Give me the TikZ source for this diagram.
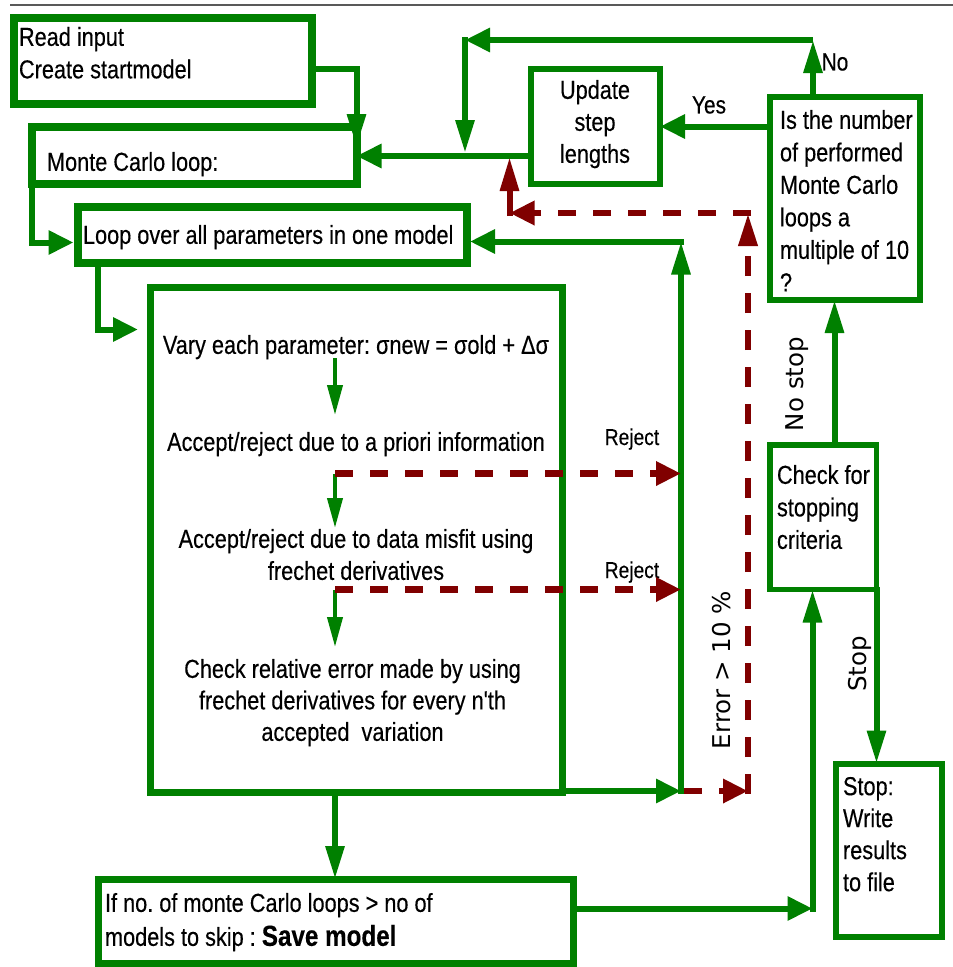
\documentclass[tikz,border=0pt]{standalone}
\usepackage{fontspec}
\setmainfont{Liberation Sans}
\newfontfamily\nfont[FakeStretch=0.835,FakeBold=0.3]{Liberation Sans}
\newfontfamily\dfont{DejaVu Sans}
\usetikzlibrary{arrows.meta,calc}
\definecolor{gr}{HTML}{008000}
\definecolor{dr}{HTML}{800000}
\frenchspacing
\begin{document}
\begin{tikzpicture}[x=1pt,y=-1pt,
  box/.style={draw=gr, fill=white, inner sep=0pt, outer sep=0pt, line width=6pt},
  txt/.style={inner sep=0pt, outer sep=0pt, text=black, font=\nfont\frenchspacing\fontsize{26}{32.5}\selectfont},
  lbl/.style={inner sep=0pt, outer sep=0pt, text=black, font=\nfont\fontsize{25}{30}\selectfont},
  rot/.style={inner sep=0pt, outer sep=0pt, text=black, rotate=90, font=\dfont\fontsize{24.5}{30}\selectfont},
  harr/.style={draw=gr, line width=6pt, -{Triangle[length=25pt,width=23pt]}},
  varr/.style={draw=gr, line width=6pt, -{Triangle[length=33pt,width=18pt]}},
  sarr/.style={draw=gr, line width=4pt, -{Triangle[length=30pt,width=15pt]}},
  rharr/.style={draw=dr, line width=6.5pt, dash pattern=on 18pt off 17pt, -{Triangle[length=25pt,width=23pt]}},
  rvarr/.style={draw=dr, line width=6.5pt, dash pattern=on 20pt off 17pt, -{Triangle[length=33pt,width=18pt]}},
  rsarr/.style={draw=dr, line width=6pt, -{Triangle[length=34pt,width=18pt]}}
]
\fill[white] (0,0) rectangle (953,967);
\useasboundingbox (0,0) rectangle (953,967);
\draw[black!65, line width=1.5pt] (10,5) -- (953,5);

% boxes
\node[box, line width=8pt, minimum width=298pt, minimum height=86pt] (read) at (163,60.5) {};
\node[box, line width=8pt, minimum width=324.5pt, minimum height=57pt] (mc) at (194.25,155.5) {};
\node[box, line width=8pt, minimum width=389.5pt, minimum height=56pt] (loop) at (272.25,235) {};
\node[box, line width=7pt, minimum width=411.5pt, minimum height=504.5pt] (big) at (356.25,539.75) {};
\node[box, minimum width=129pt, minimum height=115pt] (upd) at (595.5,126.5) {};
\node[box, minimum width=150pt, minimum height=203pt] (isn) at (845,198.5) {};
\node[box, line width=5.5pt, minimum width=106.5pt, minimum height=144.5pt] (chk) at (823.25,517.25) {};
\node[box, minimum width=106.5pt, minimum height=173.5pt] (stp) at (888.75,850.25) {};
\node[box, line width=7pt, minimum width=475.5pt, minimum height=84pt] (sav) at (335.75,921) {};

% texts
\node[txt, anchor=north west, align=left] (tread) at (19,27) {Read input\\Create startmodel};
\node[txt, anchor=north west] (tmc) at (47,152) {Monte Carlo loop:};
\node[txt, anchor=north west] (tloop) at (83,225) {Loop over all parameters in one model};
\node[txt, anchor=north] (tvary) at (356,335) {Vary each parameter: σnew = σold + Δσ};
\node[txt, anchor=north] (tacc1) at (356,432) {Accept/reject due to a priori information};
\node[txt, anchor=north, align=center, font=\nfont\fontsize{26}{32}\selectfont] (tacc2) at (356,529) {Accept/reject due to data misfit using\\frechet derivatives};
\node[txt, anchor=north, align=center, font=\nfont\fontsize{26}{31.5}\selectfont] (trel) at (352.5,659) {Check relative error made by using\\frechet derivatives for every n'th\\accepted\ \ variation};
\node[txt, anchor=north, align=center, font=\nfont\fontsize{26}{32}\selectfont] (tupd) at (595,80) {Update\\step\\lengths};
\node[txt, anchor=north west, align=left, font=\nfont\fontsize{26}{32.5}\selectfont] (tisn) at (780,110) {Is the number\\of performed\\Monte Carlo\\loops a\\multiple of 10\\?};
\node[txt, anchor=north west, align=left] (tchk) at (777,465) {Check for\\stopping\\criteria};
\node[txt, anchor=north west, align=left, font=\nfont\fontsize{26}{32}\selectfont] (tstp) at (843,777) {Stop:\\Write\\results\\to file};
\node[txt, anchor=north west, align=left] (tsav) at (105,893) {If no. of monte Carlo loops > no of\\[1.5pt]models to skip : {\bfseries\fontsize{29}{32}\selectfont Save model}};

% labels
\node[lbl] (lyes) at (709,105) {Yes};
\node[lbl] (lno) at (835,62) {No};
\node[lbl, anchor=base, font=\nfont\fontsize{23}{28}\selectfont] (lrej1) at (632,445) {Reject};
\node[lbl, anchor=base, font=\nfont\fontsize{23}{28}\selectfont] (lrej2) at (632,578) {Reject};
\node[rot] (lnostop) at (797,384) {No stop};
\node[rot] (lstop) at (860,664) {Stop};
\node[rot] (lerr) at (722,670) {Error > 10 \%};

% coordinates
\coordinate (c1) at (813,40);
\coordinate (c2) at (465,40);
\coordinate (c3) at (465,153);
\coordinate (c4) at (812.5,908.5);
\coordinate (c5) at (681,791);
\coordinate (c6) at (681,241.5);
\coordinate (c7) at (748,791);
\coordinate (c8) at (748,213);
\coordinate (c9) at (509.5,213);
\coordinate (c10) at (509.5,157);
\coordinate (c11) at (138,329.5);
\coordinate (r1) at (335,473.5);
\coordinate (r2) at (335,589.5);
\coordinate (a1) at (335,358);
\coordinate (a1e) at (335,415);
\coordinate (a2e) at (335,528);
\coordinate (a3e) at (335,647);

% green connectors
\draw[varr] (read.east |- 0,69) -| ([yshift=-20pt]mc.north east);
\draw[harr] (upd.west |- 0,156) -- (mc.east |- 0,156);
\draw[varr] (isn.north -| c1) -- (c1);
\draw[harr] (c1) -- (c2);
\draw[varr] ([yshift=3pt]c2) -- (c3);
\draw[harr] (isn.west |- upd.east) -- (upd.east);
\draw[varr] (chk.north -| 834.5,0) -- (isn.south -| 834.5,0);
\draw[varr] ([yshift=2.75pt]chk.south east) -- (stp.north -| chk.south east);
\draw[harr] (sav.east |- c4) -- (c4);
\draw[varr] ([yshift=-3pt]c4) -- (chk.south -| c4);
\draw[varr] (big.south -| 335,0) -- (sav.north -| 335,0);
\draw[harr] (big.east |- c5) -- (c5);
\draw[varr] ([yshift=-3pt]c5) -- (c6);
\draw[harr] ([xshift=3pt]c6) -- ($(loop.east |- c6)+(3,0)$);
\draw[harr] (mc.south west) |- ($(loop.west |- 0,242.5)+(-4,0)$);
\draw[harr] (loop.south west -| 97.5,0) |- (c11);
\draw[sarr] (a1) -- (a1e);
\draw[sarr] (r1) -- (a2e);
\draw[sarr] (r2) -- (a3e);

% red connectors
\draw[rharr] (r1) -- (r1 -| c5);
\draw[rharr] (r2) -- (r2 -| c5);
\draw[rharr] ([xshift=3pt]c5) -- (c7);
\draw[rvarr] ([yshift=-3pt]c7) -- (c8);
\draw[rharr] ([xshift=3pt]c8) -- (c9);
\draw[rsarr] ([yshift=-3pt]c9) -- (c10);
\end{tikzpicture}
\end{document}
